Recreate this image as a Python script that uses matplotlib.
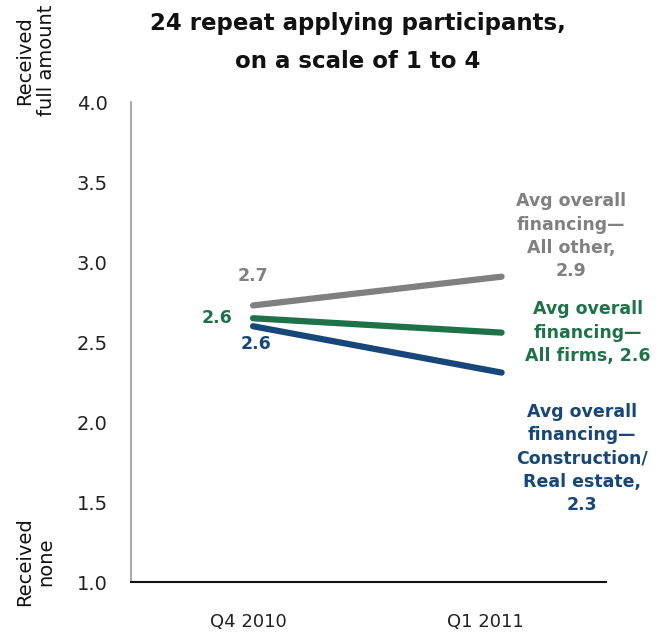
import matplotlib
matplotlib.use("Agg")
import matplotlib.pyplot as plt
import matplotlib.transforms as mtransforms

categories = ["Q4 2010", "Q1 2011"]
all_other = [2.73, 2.91]
all_firms = [2.65, 2.56]
construction = [2.60, 2.31]
yticks = [1.0, 1.5, 2.0, 2.5, 3.0, 3.5, 4.0]

c_gray = "#808080"
c_green = "#1f7248"
c_blue = "#174779"

plt.rcParams['font.family'] = ['DejaVu Sans']
fig = plt.figure(figsize=(6.63, 6.32), dpi=100)
ax = fig.add_axes([0.198, 0.079, 0.716, 0.759])

x = [0, 1]
ax.plot(x, all_other, color=c_gray, lw=4.5, solid_capstyle='round')
ax.plot(x, all_firms, color=c_green, lw=4.5, solid_capstyle='round')
ax.plot(x, construction, color=c_blue, lw=4.5, solid_capstyle='round')

ax.set_xlim(-0.49, 1.42)
ax.set_ylim(1.0, 4.0)
ax.set_yticks(yticks)
ax.set_yticklabels([f"{v:.1f}" for v in yticks])
ax.set_xticks(x)
ax.set_xticklabels(categories)
ax.tick_params(length=0, colors="#222222")
ax.tick_params(axis='y', labelsize=14, pad=17)
ax.tick_params(axis='x', labelsize=13, pad=22)
# shift x tick labels slightly left to match reference placement
for lab, dx in zip(ax.get_xticklabels(), [-5, -16]):
    lab.set_transform(lab.get_transform() + mtransforms.ScaledTranslation(dx / 100, 0, fig.dpi_scale_trans))
for s in ['top', 'right']:
    ax.spines[s].set_visible(False)
ax.spines['left'].set_color('#999999')
ax.spines['left'].set_linewidth(1.2)
ax.spines['bottom'].set_color('#111111')
ax.spines['bottom'].set_linewidth(1.5)

fs = 12.5
ls = 1.38
ax.annotate(f"{all_other[0]:.1f}", (0, all_other[0]), xytext=(0, 21), textcoords='offset points',
            ha='center', va='center', color=c_gray, fontsize=fs, fontweight='bold')
ax.annotate(f"{all_firms[0]:.1f}", (0, all_firms[0]), xytext=(-26, 0), textcoords='offset points',
            ha='center', va='center', color=c_green, fontsize=fs, fontweight='bold')
ax.annotate(f"{construction[0]:.1f}", (0, construction[0]), xytext=(2, -13), textcoords='offset points',
            ha='center', va='center', color=c_blue, fontsize=fs, fontweight='bold')

ax.annotate(f"Avg overall\nfinancing\u2014\nAll other,\n{all_other[1]:.1f}", (1, all_other[1]),
            xytext=(50, 29), textcoords='offset points', ha='center', va='center',
            color=c_gray, fontsize=fs, fontweight='bold', linespacing=ls)
ax.annotate(f"Avg overall\nfinancing\u2014\nAll firms, {all_firms[1]:.1f}", (1, all_firms[1]),
            xytext=(62, 0), textcoords='offset points', ha='center', va='center',
            color=c_green, fontsize=fs, fontweight='bold', linespacing=ls)
ax.annotate(f"Avg overall\nfinancing\u2014\nConstruction/\nReal estate,\n{construction[1]:.1f}", (1, construction[1]),
            xytext=(58, -62), textcoords='offset points', ha='center', va='center',
            color=c_blue, fontsize=fs, fontweight='bold', linespacing=ls)

fig.text(0.54, 0.933, "24 repeat applying participants,\non a scale of 1 to 4", ha='center', va='center',
         fontsize=16.5, fontweight='bold', color='#111111', linespacing=1.85)
fig.text(0.053, 0.904, "Received\nfull amount", rotation=90, ha='center', va='center',
         fontsize=14, color='#111111', linespacing=1.2)
fig.text(0.053, 0.111, "Received\nnone", rotation=90, ha='center', va='center',
         fontsize=14, color='#111111', linespacing=1.2)

fig.savefig("out.png", dpi=100)
